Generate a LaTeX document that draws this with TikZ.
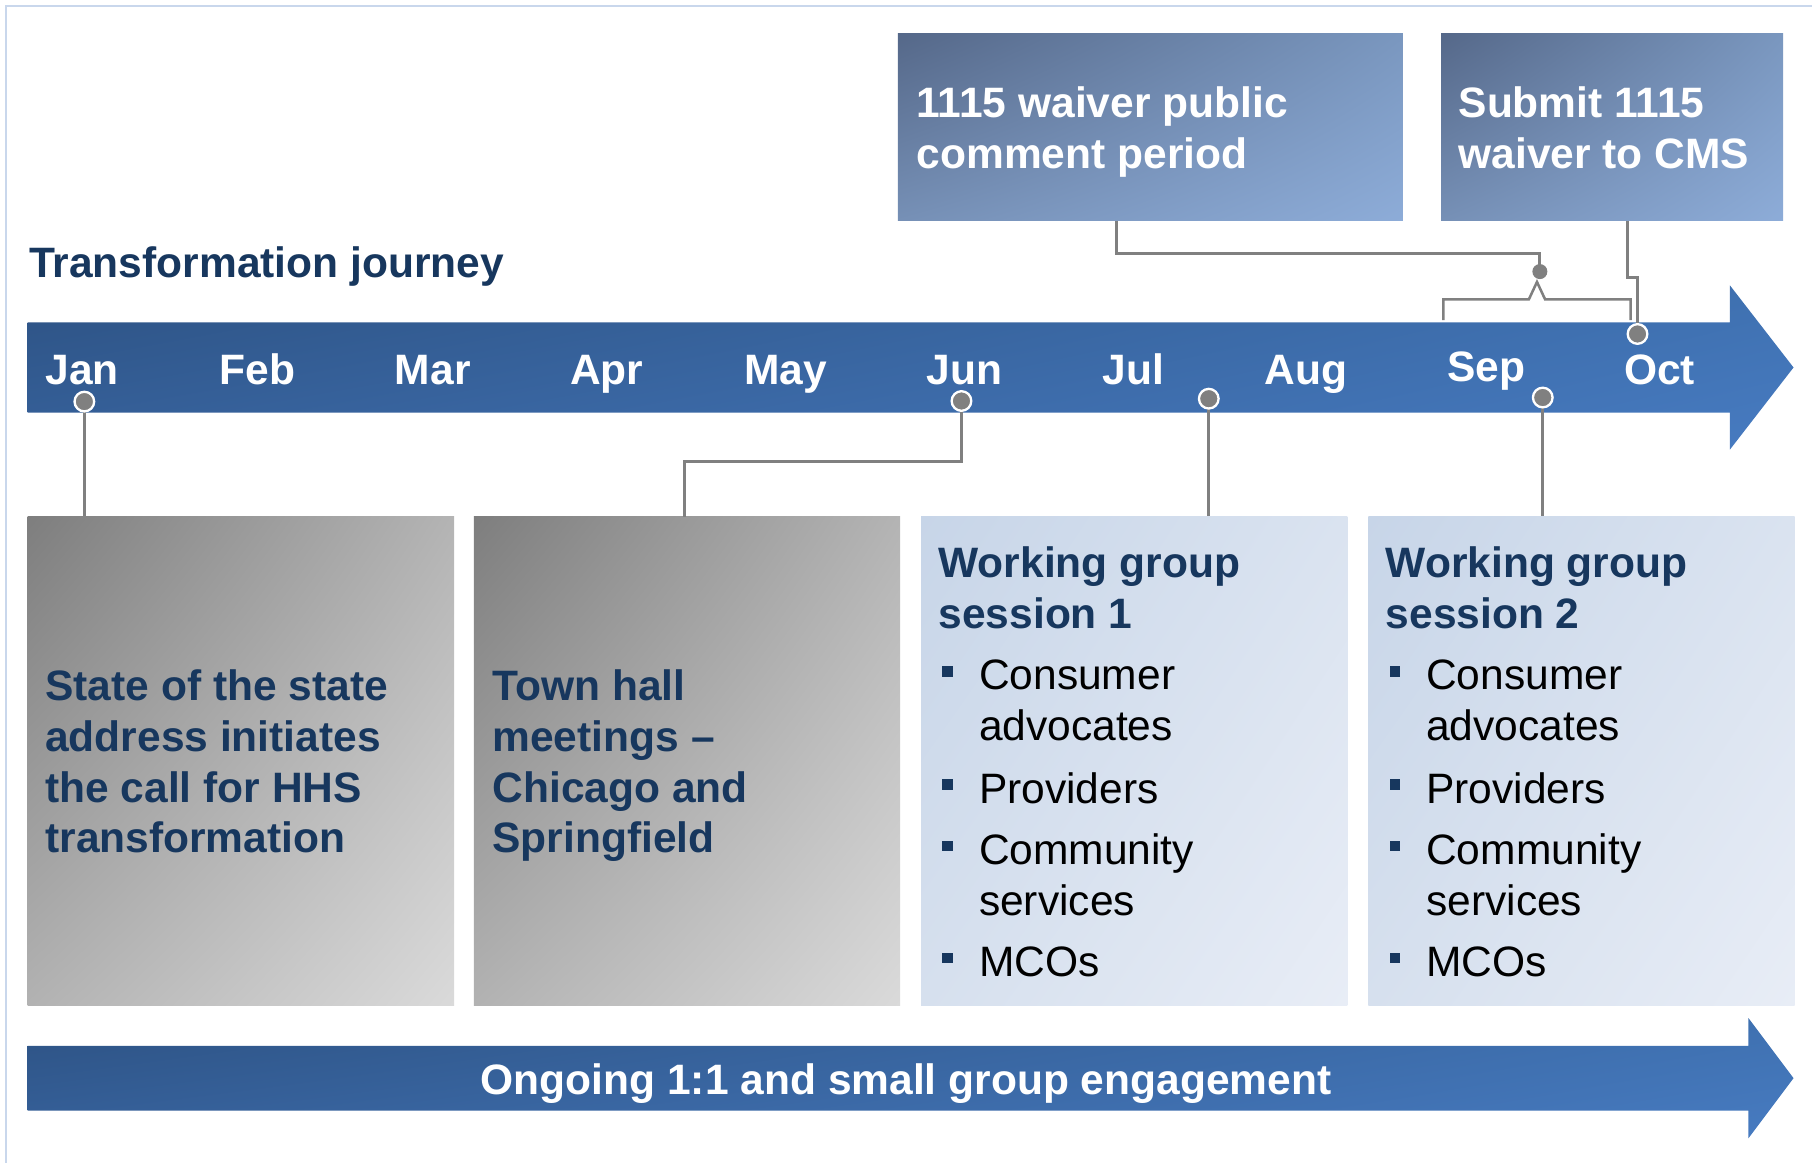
\documentclass[tikz,border=0pt]{standalone}
\usepackage{fontspec}
\setmainfont{Liberation Sans}
\usetikzlibrary{shadings}
\newcommand\myfs{\fontsize{36.8}{44}\selectfont}
\definecolor{navy}{HTML}{17375E}
\definecolor{pingrey}{HTML}{808080}
\definecolor{framec}{HTML}{C9D7EC}
\definecolor{arUL}{HTML}{2D5283}
\definecolor{arLL}{HTML}{36619B}
\definecolor{arUR}{HTML}{3F71B1}
\definecolor{arLR}{HTML}{477BC1}
\definecolor{tbUL}{HTML}{556889}
\definecolor{tbUR}{HTML}{7A97BF}
\definecolor{tbLL}{HTML}{7690B6}
\definecolor{tbLR}{HTML}{8DACD8}
\definecolor{gbUL}{HTML}{7E7E7E}
\definecolor{gbUR}{HTML}{B4B4B4}
\definecolor{gbLL}{HTML}{B2B2B2}
\definecolor{gbLR}{HTML}{DADADA}
\definecolor{lbUL}{HTML}{C7D5E8}
\definecolor{lbUR}{HTML}{DAE3F0}
\definecolor{lbLL}{HTML}{D6E0EE}
\definecolor{lbLR}{HTML}{E8EDF6}
\tikzset{
  conn/.style={draw=pingrey, line width=2.6pt},
  pinpt/.style={circle, fill=pingrey, draw=white, line width=2pt, minimum size=17pt, inner sep=0pt},
  dotpt/.style={circle, fill=pingrey, minimum size=13pt, inner sep=0pt},
  month/.style={text=white, font=\bfseries\myfs, anchor=base, inner sep=0pt},
  wtxt/.style={text=white, font=\bfseries\myfs, anchor=base west, inner sep=0pt},
  ntxt/.style={text=navy, font=\bfseries\myfs, anchor=base west, inner sep=0pt},
  btxt/.style={text=black, font=\myfs, anchor=base west, inner sep=0pt},
  bsq/.style={fill=navy, minimum size=9pt, inner sep=0pt},
  arrowshade/.style={upper left=arUL, upper right=arUR, lower left=arLL, lower right=arLR},
  topbox/.style={rectangle, inner sep=0pt, minimum height=162pt,
    upper left=tbUL, upper right=tbUR, lower left=tbLL, lower right=tbLR},
  greybox/.style={rectangle, inner sep=0pt, minimum width=369pt, minimum height=423pt,
    upper left=gbUL, upper right=gbUR, lower left=gbLL, lower right=gbLR},
  bluebox/.style={rectangle, inner sep=0pt, minimum width=369pt, minimum height=423pt,
    upper left=lbUL, upper right=lbUR, lower left=lbLL, lower right=lbLR},
}
\begin{document}
\begin{tikzpicture}[x=1pt,y=-1pt]
\useasboundingbox (0,0) rectangle (1568,1006);
% frame
\draw[framec, line width=2pt] (5,1010) -- (5,5) -- (1572,5);

% title
\node[ntxt] (title) at (25,240) {Transformation journey};

% timeline arrow
\shade[arrowshade]
  (24,279) -- (1497,279) -- (1497,247) -- (1552,318) -- (1497,389) -- (1497,357) -- (24,357) -- cycle;

% months
\node[month] (mJan) at (71,333) {Jan};
\node[month] (mFeb) at (223,333) {Feb};
\node[month] (mMar) at (374.5,333) {Mar};
\node[month] (mApr) at (525,333) {Apr};
\node[month] (mMay) at (680,333) {May};
\node[month] (mJun) at (834.5,333) {Jun};
\node[month] (mJul) at (980.5,333) {Jul};
\node[month] (mAug) at (1130,333) {Aug};
\node[month] (mSep) at (1286,330) {Sep};
\node[month] (mOct) at (1436,333) {Oct};

% top boxes
\node[topbox, minimum width=437pt] (cbox) at (995.5,110) {};
\node[topbox, minimum width=296pt] (sbox) at (1395,110) {};
\node[wtxt] (c1) at (793,102) {1115 waiver public};
\node[wtxt] (c2) at (793,146) {comment period};
\node[wtxt] (s1) at (1262,102) {Submit 1115};
\node[wtxt] (s2) at (1262,146) {waiver to CMS};

% bottom boxes
\node[greybox] (b1) at (208.5,658.5) {};
\node[greybox] (b2) at (594.5,658.5) {};
\node[bluebox] (b3) at (981.5,658.5) {};
\node[bluebox] (b4) at (1368.5,658.5) {};

% box 1 text
\node[ntxt] (b1a) at (39,606) {State of the state};
\node[ntxt] (b1b) at (39,650) {address initiates};
\node[ntxt] (b1c) at (39,694) {the call for HHS};
\node[ntxt] (b1d) at (39,738) {transformation};
% box 2 text
\node[ntxt] (b2a) at (426,606) {Town hall};
\node[ntxt] (b2b) at (426,650) {meetings –};
\node[ntxt] (b2c) at (426,694) {Chicago and};
\node[ntxt] (b2d) at (426,738) {Springfield};
% box 3 text
\node[ntxt] (b3a) at (812,500) {Working group};
\node[ntxt] (b3b) at (812,544) {session 1};
\node[bsq] (q31) at (820,581) {};
\node[btxt] (b3c) at (847,597) {Consumer};
\node[btxt] (b3d) at (847,641) {advocates};
\node[bsq] (q32) at (820,679) {};
\node[btxt] (b3e) at (847,695) {Providers};
\node[bsq] (q33) at (820,732) {};
\node[btxt] (b3f) at (847,748) {Community};
\node[btxt] (b3g) at (847,792) {services};
\node[bsq] (q34) at (820,829) {};
\node[btxt] (b3h) at (847,845) {MCOs};
% box 4 text
\node[ntxt] (b4a) at (1199,500) {Working group};
\node[ntxt] (b4b) at (1199,544) {session 2};
\node[bsq] (q41) at (1207,581) {};
\node[btxt] (b4c) at (1234,597) {Consumer};
\node[btxt] (b4d) at (1234,641) {advocates};
\node[bsq] (q42) at (1207,679) {};
\node[btxt] (b4e) at (1234,695) {Providers};
\node[bsq] (q43) at (1207,732) {};
\node[btxt] (b4f) at (1234,748) {Community};
\node[btxt] (b4g) at (1234,792) {services};
\node[bsq] (q44) at (1207,829) {};
\node[btxt] (b4h) at (1234,845) {MCOs};

% bottom arrow
\shade[arrowshade]
  (24,905) -- (1513,905) -- (1513,881) -- (1552,933) -- (1513,985) -- (1513,961) -- (24,961) -- cycle;
\node[month] (ongo) at (784,947) {Ongoing 1:1 and small group engagement};

% pin coordinates
\coordinate (cJan) at (73,347.5);
\coordinate (cJun) at (832,347);
\coordinate (cJul) at (1046,345);
\coordinate (cSep) at (1335,344);
\coordinate (cOct) at (1417,289);

% connectors
\draw[conn] (cJan) -- (cJan |- b1.north);
\draw[conn] (cJun) -- (832,399) -- (592,399) -- (592,447);
\draw[conn] (cJul) -- (cJul |- b3.north);
\draw[conn] (cSep) -- (cSep |- b4.north);
\node[dotpt] (dot) at (1332.5,235) {};
\draw[conn] (966,191) -- (966,219) -- (1332.5,219) -- (dot.center);
\draw[pingrey, line width=2.2pt] (1249,277) -- (1249,259) -- (1323,259) -- (1330,244) -- (1337,259) -- (1411,259) -- (1411,277);
\draw[conn] (1408.5,191) -- (1408.5,240) -- (1417,240) -- (cOct);

% pins
\node[pinpt] (pJan) at (cJan) {};
\node[pinpt] (pJun) at (cJun) {};
\node[pinpt] (pJul) at (cJul) {};
\node[pinpt] (pSep) at (cSep) {};
\node[pinpt] (pOct) at (cOct) {};
\end{tikzpicture}
\end{document}
